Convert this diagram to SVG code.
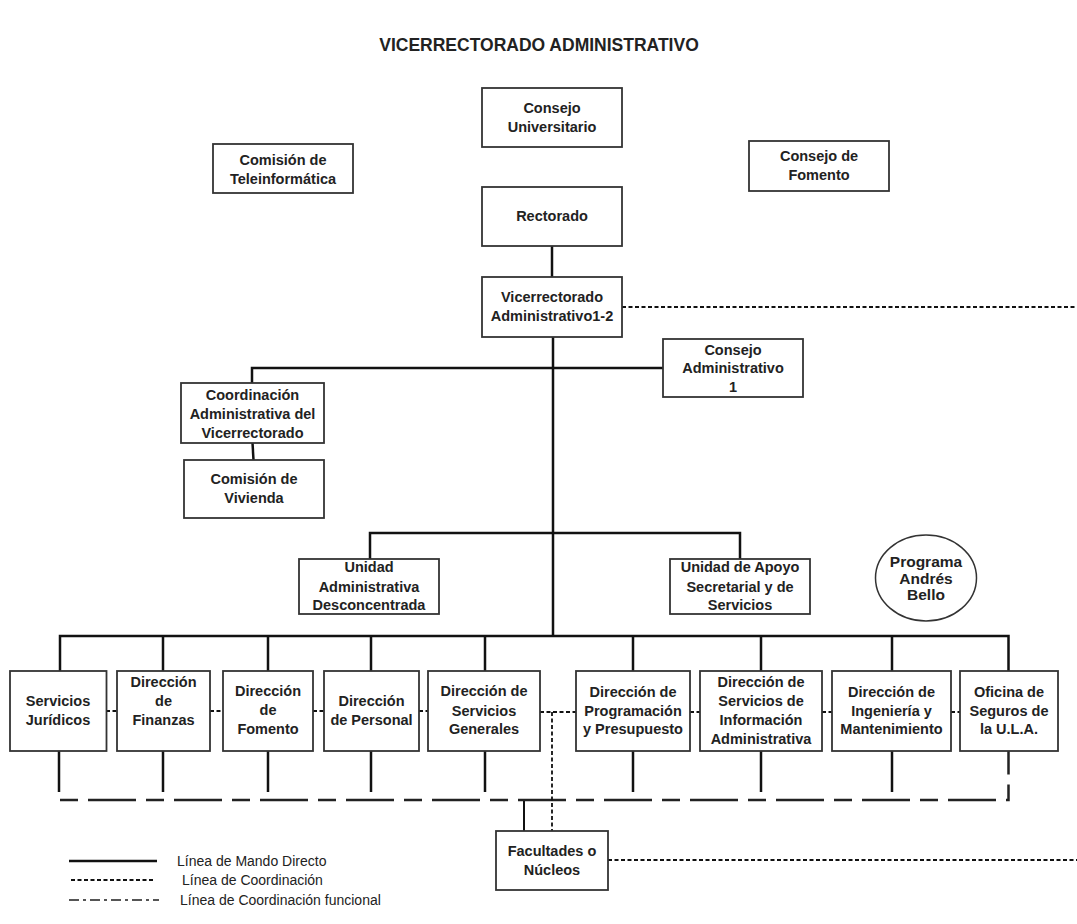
<svg xmlns="http://www.w3.org/2000/svg" width="1077" height="924" viewBox="0 0 1077 924">
<style>
text{font-family:"Liberation Sans",Arial,sans-serif;font-size:14.5px;font-weight:bold;fill:#222;text-anchor:middle}
.box{fill:#fff;stroke:#333;stroke-width:1.8}
.direct{fill:none;stroke:#111;stroke-width:2.5}
.coord{fill:none;stroke:#111;stroke-width:1.8;stroke-dasharray:4 2.5}
.func{fill:none;stroke:#222;stroke-width:2.5;stroke-dasharray:18 10 48 10}
.leg{text-anchor:start;font-weight:normal;font-size:14px}
</style>
<rect width="1077" height="924" fill="#fff"/>
<text x="539" y="51" style="font-size:17.5px">VICERRECTORADO ADMINISTRATIVO</text>
<g id="connectors">
<path class="direct" d="M552,246V277"/>
<path class="direct" d="M553,337V636"/>
<path class="direct" d="M252,383V368H663"/>
<path class="direct" d="M252.5,443L253.5,460"/>
<path class="direct" d="M370,566V533H740V559"/>
<path class="direct" d="M60,671V636H1008.5V671"/>
<path class="direct" d="M163,636V671M268,636V671M371,636V671M485,636V671M633,636V671M761,636V671M892,636V671"/>
<path class="direct" d="M59,751V792M163,751V792M268,751V792M371,751V792M485,751V792M633,751V792M761,751V792M892,751V792"/>
<path class="func" d="M60,800H1008.5V751"/>
<path class="direct" d="M524,831V801" style="stroke-width:2"/>
<path class="coord" d="M622,307H1077"/>
<path class="coord" d="M608,860H1077"/>
<path class="coord" d="M106,711H117M210,711H223M313,711H324M419,711H428M540,712H576M690,712H700M822,712H832M951,712H960"/>
<path class="coord" d="M552,712V831"/>
</g>
<g id="consejo-universitario"><rect class="box" x="482" y="88" width="140" height="59"/><text x="552" y="113">Consejo</text><text x="552" y="132">Universitario</text></g>
<g id="comision-teleinformatica"><rect class="box" x="213" y="144" width="140" height="49"/><text x="283" y="164.5">Comisión de</text><text x="283" y="183.5">Teleinformática</text></g>
<g id="consejo-fomento"><rect class="box" x="749" y="141" width="140" height="50"/><text x="819" y="161">Consejo de</text><text x="819" y="180">Fomento</text></g>
<g id="rectorado"><rect class="box" x="482" y="187" width="140" height="59"/><text x="552" y="221">Rectorado</text></g>
<g id="vicerrectorado"><rect class="box" x="482" y="277" width="140" height="60"/><text x="552" y="302">Vicerrectorado</text><text x="552" y="321">Administrativo1-2</text></g>
<g id="consejo-administrativo"><rect class="box" x="663" y="339" width="140" height="58"/><text x="733" y="354.5">Consejo</text><text x="733" y="373">Administrativo</text><text x="733" y="391.5">1</text></g>
<g id="coordinacion"><rect class="box" x="181" y="383" width="143" height="60"/><text x="252.5" y="399.5">Coordinación</text><text x="252.5" y="418.5">Administrativa del</text><text x="252.5" y="437.5">Vicerrectorado</text></g>
<g id="comision-vivienda"><rect class="box" x="184" y="460" width="140" height="58"/><text x="254" y="484">Comisión de</text><text x="254" y="503">Vivienda</text></g>
<g id="unidad-administrativa"><rect class="box" x="299" y="559" width="140" height="55"/><text x="369" y="572">Unidad</text><text x="369" y="591.5">Administrativa</text><text x="369" y="610">Desconcentrada</text></g>
<g id="unidad-apoyo"><rect class="box" x="670" y="559" width="140" height="55"/><text x="740" y="572">Unidad de Apoyo</text><text x="740" y="591.5">Secretarial y de</text><text x="740" y="610">Servicios</text></g>
<g id="programa-andres-bello"><ellipse cx="926" cy="578" rx="50.5" ry="43" fill="#fff" stroke="#333" stroke-width="1.5"/><text x="926" y="567" style="font-size:15.5px">Programa</text><text x="926" y="583.5" style="font-size:15.5px">Andrés</text><text x="926" y="600" style="font-size:15.5px">Bello</text></g>
<g id="servicios-juridicos"><rect class="box" x="10" y="671" width="96.5" height="80"/><text x="58" y="706">Servicios</text><text x="58" y="724.5">Jurídicos</text></g>
<g id="direccion-finanzas"><rect class="box" x="117" y="671" width="93" height="80"/><text x="163.5" y="687">Dirección</text><text x="163.5" y="706">de</text><text x="163.5" y="724.5">Finanzas</text></g>
<g id="direccion-fomento"><rect class="box" x="223" y="671" width="90" height="80"/><text x="268" y="696">Dirección</text><text x="268" y="715">de</text><text x="268" y="734">Fomento</text></g>
<g id="direccion-personal"><rect class="box" x="324" y="671" width="95" height="80"/><text x="371.5" y="706">Dirección</text><text x="371.5" y="725">de Personal</text></g>
<g id="direccion-servicios-generales"><rect class="box" x="428" y="671" width="112" height="80"/><text x="484" y="696">Dirección de</text><text x="484" y="715.5">Servicios</text><text x="484" y="734">Generales</text></g>
<g id="direccion-programacion"><rect class="box" x="576" y="671" width="114" height="80"/><text x="633" y="696.5">Dirección de</text><text x="633" y="715.5">Programación</text><text x="633" y="734">y Presupuesto</text></g>
<g id="direccion-servicios-informacion"><rect class="box" x="700" y="671" width="122" height="80"/><text x="761" y="687">Dirección de</text><text x="761" y="706">Servicios de</text><text x="761" y="725">Información</text><text x="761" y="744">Administrativa</text></g>
<g id="direccion-ingenieria"><rect class="box" x="832" y="671" width="119" height="80"/><text x="891.5" y="696.5">Dirección de</text><text x="891.5" y="715.5">Ingeniería y</text><text x="891.5" y="734">Mantenimiento</text></g>
<g id="oficina-seguros"><rect class="box" x="960" y="671" width="98" height="80"/><text x="1009" y="696.5">Oficina de</text><text x="1009" y="715.5">Seguros de</text><text x="1009" y="734">la U.L.A.</text></g>
<g id="facultades"><rect class="box" x="496" y="831" width="112" height="59"/><text x="552" y="856">Facultades o</text><text x="552" y="874.5">Núcleos</text></g>
<g id="legend">
<path class="direct" d="M69,861H157"/>
<path class="coord" d="M71,880H153"/>
<path d="M69,900H159" fill="none" stroke="#555" stroke-width="2" stroke-dasharray="10 4 3 4"/>
<text class="leg" x="177" y="866">Línea de Mando Directo</text>
<text class="leg" x="182" y="885">Línea de Coordinación</text>
<text class="leg" x="180" y="905">Línea de Coordinación funcional</text>
</g>
</svg>
